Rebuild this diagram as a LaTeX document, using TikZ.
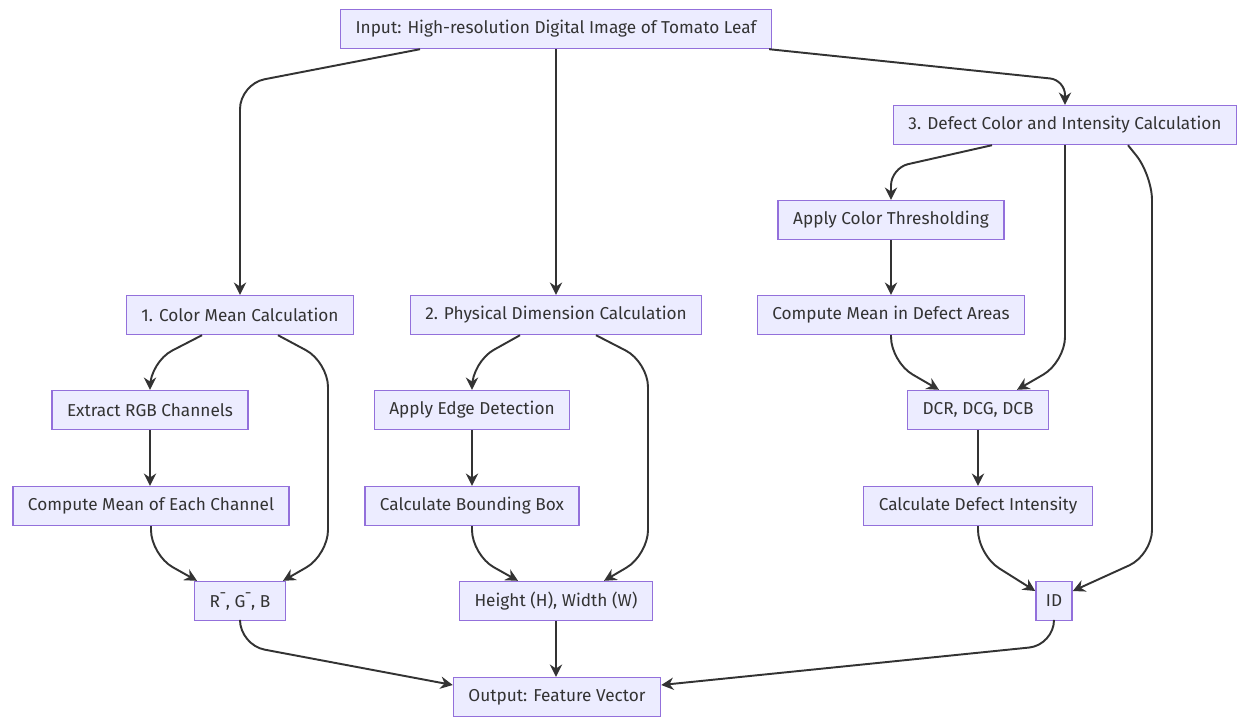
\documentclass[tikz,border=0pt]{standalone}
\usepackage{fontspec}
\setmainfont{Fira Sans}
\usepackage{xcolor}
\definecolor{boxfill}{RGB}{236,236,255}
\definecolor{boxline}{RGB}{147,112,219}
\definecolor{inkgray}{RGB}{51,51,51}
\usepackage{tikz}
\usetikzlibrary{arrows.meta,calc}
\tikzset{
  stepbox/.style={draw=boxline, fill=boxfill, line width=0.8pt, text=inkgray,
    font=\fontsize{9.8}{12}\selectfont, minimum height=0.78cm, inner xsep=0.3cm},
  flow/.style={-{Stealth[length=7pt,width=7pt]}, draw=inkgray, line width=1.1pt,
    rounded corners=0.5cm}
}

\begin{document}
\begin{tikzpicture}[x=0.02cm,y=-0.02cm]
\useasboundingbox (0,0) rectangle (1240,718);
% boxes
\node[stepbox] (input) at (556,29) {Input: High-resolution Digital Image of Tomato Leaf};
\node[stepbox] (c3) at (1065,125) {3. Defect Color and Intensity Calculation};
\node[stepbox] (thresh) at (891,220) {Apply Color Thresholding};
\node[stepbox] (c1) at (240,315) {1. Color Mean Calculation};
\node[stepbox] (c2) at (556,315) {2. Physical Dimension Calculation};
\node[stepbox] (meandef) at (891,315) {Compute Mean in Defect Areas};
\node[stepbox] (rgb) at (150,410) {Extract RGB Channels};
\node[stepbox] (edge) at (472,410) {Apply Edge Detection};
\node[stepbox] (dcr) at (978,410) {DCR, DCG, DCB};
\node[stepbox] (meanch) at (151,506) {Compute Mean of Each Channel};
\node[stepbox] (bbox) at (472,506) {Calculate Bounding Box};
\node[stepbox] (intens) at (978,506) {Calculate Defect Intensity};
\node[stepbox] (rgbar) at (240,601) {R¯, G¯, B};
\node[stepbox] (hw) at (556,601) {Height (H), Width (W)};
\node[stepbox, inner xsep=0.2cm] (id) at (1054,601) {ID};
\node[stepbox] (out) at (557,697) {Output: Feature Vector};
% input fan-out
\draw[flow] ($(input.south)+(-136,0)$) -- (240,84) -- (c1.north);
\draw[flow] (input.south) -- (c2.north);
\draw[flow, rounded corners=0.3cm] ($(input.south east)+(-3,0)$) -- (1065,80) -- (c3.north);
% color mean
\draw[flow] ($(c1.south)+(-38,0)$) -- (150,362) -- (rgb.north);
\draw[flow] ($(c1.south)+(38,0)$) -- (328,362) -- (328,555) -- ($(rgbar.north)+(43,0)$);
\draw[flow] (rgb.south) -- (meanch.north -| rgb.south);
\draw[flow] (meanch.south) -- (151,555) -- ($(rgbar.north)+(-43,0)$);
\draw[flow] (rgbar.south) -- (240,645) -- ($(out.west)+(0,-12)$);
% physical dimension
\draw[flow] ($(c2.south)+(-36,0)$) -- (472,362) -- (edge.north);
\draw[flow] ($(c2.south)+(40,0)$) -- (648,362) -- (648,555) -- ($(hw.north)+(48,0)$);
\draw[flow] (edge.south) -- (bbox.north);
\draw[flow] (bbox.south) -- (472,555) -- ($(hw.north)+(-38,0)$);
\draw[flow] (hw.south) -- (out.north -| hw.south);
% defect color and intensity
\draw[flow, rounded corners=0.35cm] ($(c3.south)+(-73,0)$) -- (891,168) -- (thresh.north);
\draw[flow] (c3.south) -- (1065,362) -- ($(dcr.north)+(39,0)$);
\draw[flow] ($(c3.south)+(63,0)$) -- (1152,175) -- (1152,555) -- ($(id.east)+(0,-10)$);
\draw[flow] (thresh.south) -- (meandef.north);
\draw[flow] (meandef.south) -- (891,362) -- ($(dcr.north)+(-39,0)$);
\draw[flow] (dcr.south) -- (intens.north);
\draw[flow] (intens.south) -- (978,555) -- ($(id.west)+(0,-10)$);
\draw[flow] (id.south) -- (1054,645) -- ($(out.east)+(0,-12)$);
\end{tikzpicture}
\end{document}
